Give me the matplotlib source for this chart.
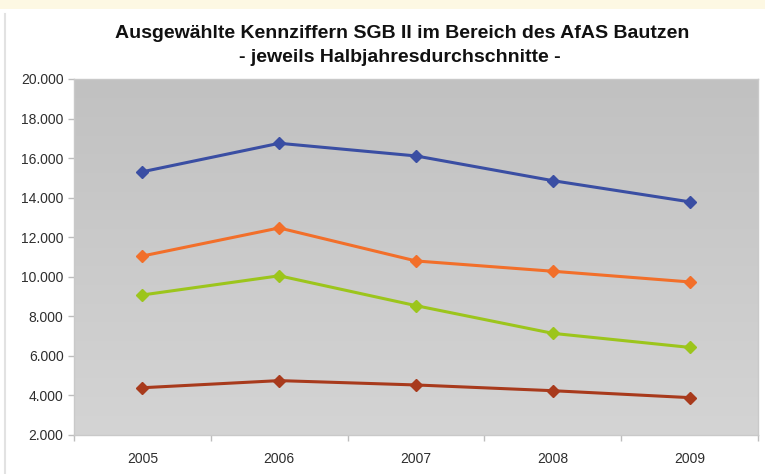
import numpy as np
import matplotlib
matplotlib.use("Agg")
from matplotlib import pyplot as plt
from matplotlib.ticker import FuncFormatter, FixedLocator

# ==========================
# Data (values in persons)
# ==========================
years = ["2005", "2006", "2007", "2008", "2009"]
series_blue = [15310, 16750, 16110, 14860, 13790]
series_orange = [11050, 12470, 10800, 10280, 9740]
series_green = [9080, 10050, 8540, 7140, 6430]
series_red = [4390, 4750, 4530, 4240, 3890]

colors = ["#3a4ea3", "#f26f2a", "#9cc51c", "#a83a1c"]

plt.rcParams['font.family'] = ['Liberation Sans', 'DejaVu Sans']

fig = plt.figure(figsize=(7.65, 4.74), dpi=100)
fig.patch.set_facecolor("white")

# pale yellow strip on top and thin gray line on the left
fig.add_artist(plt.Rectangle((0, 1 - 9 / 474), 1, 9 / 474, transform=fig.transFigure,
                             facecolor="#fdf8e3", edgecolor="none"))
fig.add_artist(plt.Line2D([5 / 765, 5 / 765], [0, 1 - 14 / 474], transform=fig.transFigure,
                          color="#e2e2e2", lw=1.5))

ax = fig.add_axes([74 / 765, 39 / 474, 684 / 765, 356 / 474])

x = np.arange(len(years))
ax.set_xlim(-0.5, len(years) - 0.5)
ax.set_ylim(2000, 20000)

# gradient background: darker at top, lighter at bottom
grad = np.linspace(0, 1, 256).reshape(-1, 1)
ax.imshow(grad, extent=(-0.5, len(years) - 0.5, 2000, 20000), aspect="auto",
          cmap=matplotlib.colors.LinearSegmentedColormap.from_list("g", ["#c1c1c1", "#d4d4d4"]),
          origin="upper", zorder=0)

for vals, c in zip([series_blue, series_orange, series_green, series_red], colors):
    ax.plot(x, vals, color=c, lw=2.2, marker="D", markersize=6, zorder=3)

# y axis
ax.set_yticks(np.arange(2000, 20001, 2000))
ax.yaxis.set_major_formatter(FuncFormatter(lambda v, p: "{:,.0f}".format(v).replace(",", ".")))

# x axis: ticks between categories, labels centred
ax.xaxis.set_major_locator(FixedLocator(np.arange(-0.5, len(years), 1.0)))
ax.xaxis.set_minor_locator(FixedLocator(x))
ax.set_xticklabels([], minor=False)
ax.set_xticklabels(years, minor=True)
ax.tick_params(axis="x", which="minor", length=0, pad=12)
ax.tick_params(axis="both", which="major", length=4, color="#bdbdbd", width=1)
ax.tick_params(axis="both", which="both", labelsize=10, labelcolor="#2e2e2e")

for s in ax.spines.values():
    s.set_color("#c9c9c9")
    s.set_linewidth(1)

fig.text(402 / 765, 1 - 33 / 474, "Ausgewählte Kennziffern SGB II im Bereich des AfAS Bautzen",
         ha="center", va="center", fontsize=14, fontweight="bold", color="#111111")
fig.text(400 / 765, 1 - 57 / 474, "- jeweils Halbjahresdurchschnitte -",
         ha="center", va="center", fontsize=14, fontweight="bold", color="#111111")

fig.savefig("out.png", dpi=100)
